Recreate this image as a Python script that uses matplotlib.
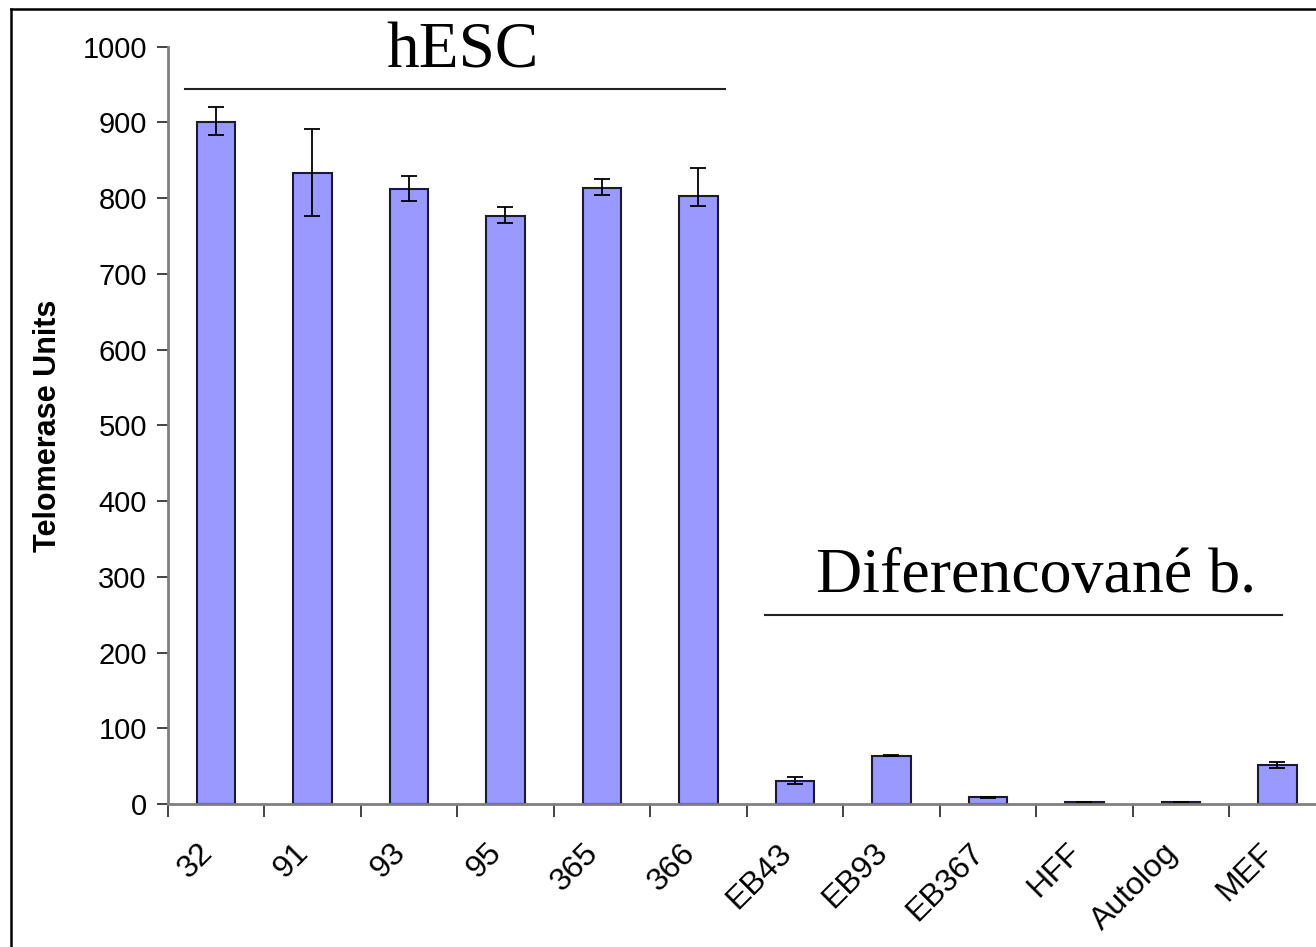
import matplotlib.pyplot as plt
import numpy as np
from matplotlib.lines import Line2D
import matplotlib.transforms as mtransforms

# data
categories = ['32', '91', '93', '95', '365', '366',
              'EB43', 'EB93', 'EB367', 'HFF', 'Autolog', 'MEF']
values = [900, 833, 812, 777, 814, 803, 31, 64, 9, 2, 2, 51]
err_low = [17, 57, 16, 10, 10, 13, 5, 1, 0.5, 0.5, 0.5, 4]
err_high = [20, 58, 17, 11, 11, 37, 4, 1, 0.5, 0.5, 1, 4]

plt.rcParams['font.family'] = ['Liberation Sans', 'DejaVu Sans']

fig = plt.figure(figsize=(13.16, 9.47), dpi=100)
ax = fig.add_axes([0.1274, 0.151, 0.88, 0.7997])

x = np.arange(len(categories))
ax.bar(x, values, width=0.4, color='#9999FF', edgecolor='#1a1a33', linewidth=1.5,
       yerr=[err_low, err_high], capsize=6,
       error_kw=dict(ecolor='black', elinewidth=1.3, capthick=1.3))

ax.set_xlim(-0.5, len(categories) - 0.5)
ax.set_ylim(0, 1000)
ax.set_yticks(range(0, 1001, 100))
ax.tick_params(axis='y', labelsize=21, length=8, width=1.2, color='#222222', pad=7)

# ticks at the category boundaries, labels at the centers
ax.set_xticks(np.arange(len(categories) + 1) - 0.5)
ax.set_xticklabels([])
ax.tick_params(axis='x', which='major', length=9, width=1.2, color='#222222')
ax.set_xticks(x, minor=True)
ax.set_xticklabels(categories, minor=True, rotation=45, ha='right', va='center',
                   rotation_mode='anchor', fontsize=23)
ax.tick_params(axis='x', which='minor', length=0, pad=32)
offset = mtransforms.ScaledTranslation(-0.08, 0, fig.dpi_scale_trans)
for lab in ax.get_xticklabels(minor=True):
    lab.set_transform(lab.get_transform() + offset)

for side in ['top', 'right']:
    ax.spines[side].set_visible(False)
for side in ['left', 'bottom']:
    ax.spines[side].set_color('#808080')
    ax.spines[side].set_linewidth(2)

ax.set_ylabel('Telomerase Units', fontsize=22, fontweight='bold', labelpad=14)

# group labels
ax.plot([-0.32, 5.27], [944, 944], color='#222222', linewidth=1.5, clip_on=False)
ax.text(2.55, 993, 'hESC', fontsize=47, family='Liberation Serif',
        ha='center', va='center', clip_on=False)
ax.plot([5.69, 11.05], [250, 250], color='#222222', linewidth=1.5, clip_on=False)
ax.text(8.5, 300, 'Diferencované b.', fontsize=46, family='Liberation Serif',
        ha='center', va='center')

# frame
fig.add_artist(Line2D([0.008, 1.0], [0.991, 0.991], color='black', linewidth=1.8,
                      transform=fig.transFigure))
fig.add_artist(Line2D([0.008, 0.008], [0.0, 0.991], color='black', linewidth=1.8,
                      transform=fig.transFigure))

plt.savefig('out.png', dpi=100)
